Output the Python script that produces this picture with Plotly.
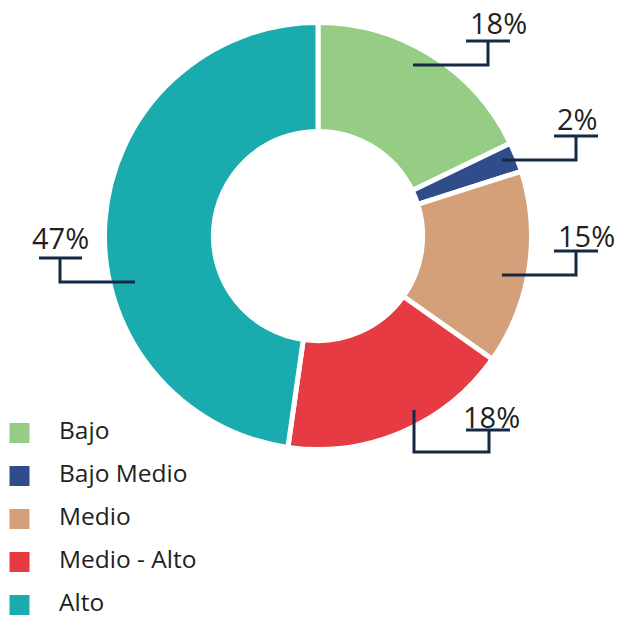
import plotly.graph_objects as go

categories = ['Bajo', 'Bajo Medio', 'Medio', 'Medio - Alto', 'Alto']
values = [17.85, 2.25, 14.7, 17.45, 47.75]
pct_labels = ['18%', '2%', '15%', '18%', '47%']
colors = ['#95CD84', '#2F4D8A', '#D4A07A', '#E63B43', '#1AABAE']

W = H = 617
text_color = '#231F20'
line_color = '#142A44'
font_family = 'Open Sans'


def px(x, y):
    """Pixel position (from top left) -> paper coordinates."""
    return x / W, 1 - y / H


# Donut geometry (pixels)
cx, cy, r = 318, 236, 213.5

fig = go.Figure()

fig.add_trace(go.Pie(
    labels=categories,
    values=values,
    hole=0.49,
    sort=False,
    direction='clockwise',
    rotation=0,
    marker=dict(colors=colors, line=dict(color='white', width=5)),
    textinfo='none',
    hoverinfo='label',
    showlegend=False,
    domain=dict(x=[(cx - r) / W, (cx + r) / W],
                y=[(H - cy - r) / H, (H - cy + r) / H]),
))

# Legend drawn as a small scatter on its own axes (1 unit = 1 px)
rows = list(range(len(categories)))
fig.add_trace(go.Scatter(
    x=[19.5] * len(categories), y=rows,
    mode='markers',
    marker=dict(symbol='square', size=20, color=colors),
    hoverinfo='skip', showlegend=False, cliponaxis=False,
))
fig.add_trace(go.Scatter(
    x=[59] * len(categories), y=rows,
    mode='text', text=categories, textposition='middle right',
    textfont=dict(size=24.5, color=text_color, family=font_family),
    hoverinfo='skip', showlegend=False, cliponaxis=False,
))

# Percentage labels with elbow leader lines (pixel layout per slice)
label_pos = [  # text left x, text middle y
    (468, 23), (555, 119), (556, 235), (461, 416), (30, 238),
]
leaders = [  # underline x0, x1, y ; elbow path
    ((466, 510, 41), [(488, 41), (488, 65), (413, 65)]),
    ((554, 598, 136), [(576, 136), (576, 160), (502, 160)]),
    ((554, 598, 251), [(576, 251), (576, 275), (502, 275)]),
    ((466, 510, 430), [(489, 430), (489, 452), (414, 452), (414, 410)]),
    ((39, 82, 258), [(60, 258), (60, 282), (135, 282)]),
]

shapes = []
annotations = []
for lbl, (tx, ty), ((ux0, ux1, uy), path) in zip(pct_labels, label_pos, leaders):
    x, y = px(tx, ty)
    annotations.append(dict(
        x=x, y=y, xref='paper', yref='paper', xanchor='left', yanchor='middle',
        text=lbl, showarrow=False,
        font=dict(size=29, color=text_color, family=font_family),
    ))
    a, b = px(ux0, uy)
    c, d = px(ux1, uy)
    shapes.append(dict(type='line', xref='paper', yref='paper', x0=a, y0=b, x1=c, y1=d,
                       line=dict(color=line_color, width=3)))
    pts = [px(*p) for p in path]
    d_path = 'M' + ' L'.join(f'{p[0]},{p[1]}' for p in pts)
    shapes.append(dict(type='path', xref='paper', yref='paper', path=d_path,
                       line=dict(color=line_color, width=3)))

# legend axes: domain bottom-left, rows at 433 + 43*i px
leg_top, leg_bot = 401, 617
row0, step = 433, 43
fig.update_layout(
    width=W, height=H,
    margin=dict(l=0, r=0, t=0, b=0),
    paper_bgcolor='white',
    plot_bgcolor='white',
    xaxis=dict(domain=[0, 0.5], range=[0, 0.5 * W], visible=False, fixedrange=True),
    yaxis=dict(domain=[0, (H - leg_top) / H],
               range=[(leg_bot - row0) / step, (leg_top - row0) / step],
               visible=False, fixedrange=True),
    shapes=shapes,
    annotations=annotations,
    showlegend=False,
)

# page body has a default 8px margin; drop it so the figure fills the window
fig.write_html('out.html', config={'displayModeBar': False},
               post_script="document.body.style.margin = '0';")
